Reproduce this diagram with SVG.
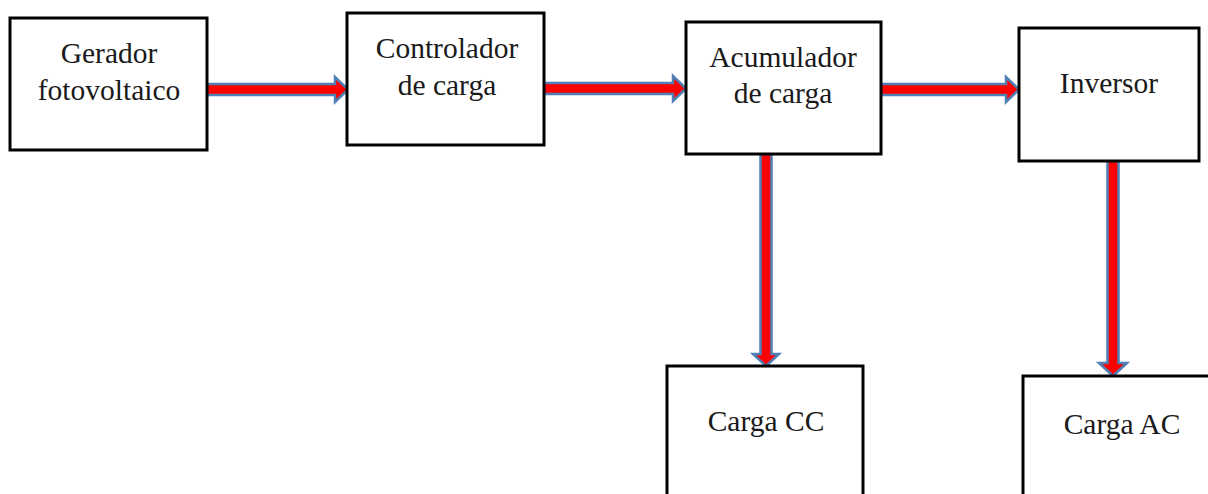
<svg xmlns="http://www.w3.org/2000/svg" width="1208" height="494" viewBox="0 0 1208 494">
<style>
.box{fill:#fff;stroke:#000;stroke-width:3}
.lbl{font-family:'Liberation Serif','DejaVu Serif',serif;font-size:29.5px;fill:#1a1a1a;text-anchor:middle}
.arr{fill:#ff0000;stroke:#4f7fb5;stroke-width:2.5;stroke-linejoin:miter}
</style>
<rect width="1208" height="494" fill="#fff"/>
<g id="connectors">
<polygon class="arr" points="207,84 335,84 335,77 348,89.5 335,102 335,95 207,95"/>
<polygon class="arr" points="544,83 673,83 673,76 686,88.5 673,101 673,94 544,94"/>
<polygon class="arr" points="881,84 1006,84 1006,77 1019,89.5 1006,102 1006,95 881,95"/>
<polygon class="arr" points="760.5,154 771.5,154 771.5,354 779,354 766,366 753,354 760.5,354"/>
<polygon class="arr" points="1107.5,161 1118.5,161 1118.5,363 1127,363 1113,376 1099,363 1107.5,363"/>
</g>
<g id="gerador"><rect class="box" x="10" y="18" width="197" height="132"/><text class="lbl" x="109" y="63">Gerador</text><text class="lbl" x="109" y="100">fotovoltaico</text></g>
<g id="controlador"><rect class="box" x="347" y="13" width="197" height="132"/><text class="lbl" x="447" y="58">Controlador</text><text class="lbl" x="447" y="95">de carga</text></g>
<g id="acumulador"><rect class="box" x="686" y="22" width="195" height="132"/><text class="lbl" x="783" y="67">Acumulador</text><text class="lbl" x="783" y="103">de carga</text></g>
<g id="inversor"><rect class="box" x="1019" y="28" width="180" height="133"/><text class="lbl" x="1109" y="93">Inversor</text></g>
<g id="cargacc"><rect class="box" x="667" y="366" width="196" height="140"/><text class="lbl" x="766" y="431">Carga CC</text></g>
<g id="cargaac"><rect class="box" x="1023" y="376" width="200" height="130"/><text class="lbl" x="1122" y="434">Carga AC</text></g>
</svg>
